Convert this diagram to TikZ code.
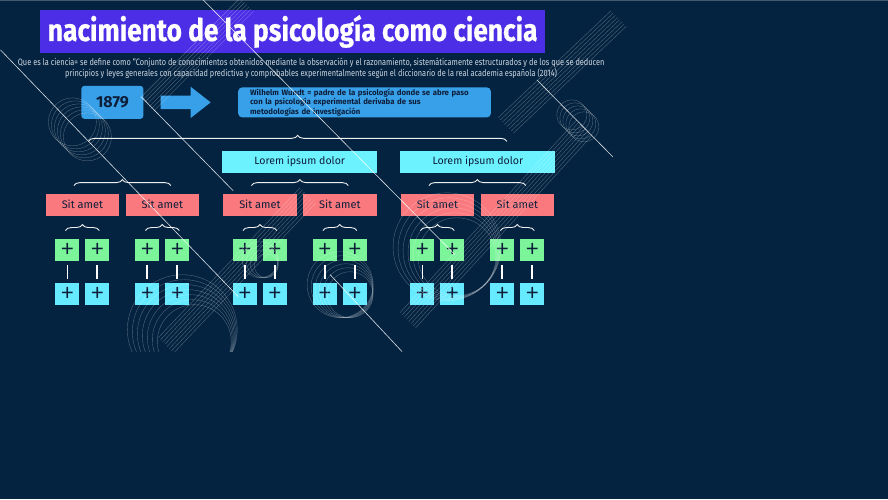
\documentclass[tikz,border=0pt]{standalone}
\usepackage{fontspec}
\setmainfont{Fira Sans}
\newfontfamily\condfont[FakeStretch=0.8]{Fira Sans}
\newfontfamily\titlefont[FakeBold=0.6]{Fira Sans}
\newfontfamily\plusfont{Lato}
\usetikzlibrary{positioning, shapes.arrows, decorations.pathreplacing}
\definecolor{bgnavy}{RGB}{4,35,64}
\definecolor{titlepurple}{RGB}{76,46,230}
\definecolor{yearblue}{RGB}{56,160,232}
\definecolor{loremcyan}{RGB}{108,242,255}
\definecolor{sitred}{RGB}{249,121,126}
\definecolor{plusgreen}{RGB}{124,245,154}
\definecolor{pluscyan}{RGB}{102,234,255}
\definecolor{inknavy}{RGB}{14,30,58}
\definecolor{subgray}{RGB}{205,214,224}

\begin{document}
\begin{tikzpicture}[x=1pt, y=-1pt, font=\fontsize{10}{12}\selectfont,
  box/.style={rectangle, inner sep=0pt, text=inknavy},
  lorem/.style={box, fill=loremcyan, minimum width=155pt, minimum height=22pt,
                font=\fontsize{10.6}{12}\selectfont},
  sit/.style={box, fill=sitred, minimum width=73.5pt, minimum height=22pt,
              font=\fontsize{11}{12}\selectfont},
  pg/.style={box, fill=plusgreen, minimum width=24pt, minimum height=22pt,
             font=\plusfont\fontsize{22.5}{22.5}\selectfont},
  pc/.style={pg, fill=pluscyan},
  brc/.style={draw=white!88!gray, line width=0.9pt, decorate,
              decoration={brace, amplitude=6pt}},
  lnk/.style={draw=white, line width=1.8pt, shorten <=4pt, shorten >=4pt},
  deco/.style={draw=white, line width=0.4pt, opacity=0.3},
  ray/.style={draw=white, line width=0.6pt, opacity=0.85}]
\fill[bgnavy] (0,0) rectangle (888,500);
\draw[white!25!bgnavy, line width=1pt] (0,0.5) -- (888,0.5);

% header
\node[fill=titlepurple, minimum width=505pt, minimum height=43pt, inner sep=0pt,
      text=white, font=\titlefont\fontsize{31}{31}\selectfont\bfseries] (title) at (292.5,31.5)
      {\scalebox{0.85}[1]{nacimiento de la psicología como ciencia}};
\node[text=subgray, align=center, inner sep=0pt,
      font=\condfont\fontsize{9.25}{10.5}\selectfont] (defn) at (311,68.5)
      {Que es la ciencia= se define como “Conjunto de conocimientos obtenidos mediante la observación y el razonamiento, sistemáticamente estructurados y de los que se deducen\\
       principios y leyes generales con capacidad predictiva y comprobables experimentalmente según el diccionario de la real academia española (2014)};

% 1879 -> Wundt
\node[box, fill=yearblue, rounded corners=3pt, minimum width=62pt, minimum height=33pt,
      font=\fontsize{16}{16}\selectfont\bfseries] (year) at (112,102.5) {1879};
\node[single arrow, fill=yearblue, inner sep=6.5pt, minimum height=50pt,
      single arrow head extend=9pt, single arrow tip angle=76,
      right=17pt of year] (arw) {};
\node[box, fill=yearblue, rounded corners=4pt, minimum width=253pt, minimum height=30pt,
      text width=229pt, align=left, font=\fontsize{7.8}{9.4}\selectfont\bfseries,
      right=27pt of arw] (wundt)
      {Wilhelm Wundt = padre de la psicología donde se abre paso\\
       con la psicología experimental derivaba de sus\\
       metodologías de investigación};

% tree
\draw[brc] (88,141.5) -- (507,141.5);
\node[lorem] (lor1) at (299.5,162) {Lorem ipsum dolor};
\node[lorem, right=23pt of lor1] (lor2) {Lorem ipsum dolor};
\foreach \n/\cx in {1/82,2/162,3/259.7,4/339.7,5/437.4,6/517.4}{
  \node[sit] (s\n) at (\cx,205) {Sit amet};
  \node[pg] (ga\n) at ({\cx-15},250) {+};
  \node[pg] (gb\n) at ({\cx+15},250) {+};
  \node[pc] (ca\n) at ({\cx-15},294.7) {+};
  \node[pc] (cb\n) at ({\cx+15},294.7) {+};
  \draw[brc] ([xshift=-2pt,yshift=8pt]ga\n.north) -- ([xshift=2pt,yshift=8pt]gb\n.north);
  \draw[lnk] (ga\n) -- (ca\n);
  \draw[lnk] (gb\n) -- (cb\n);
}
\draw[brc] ([xshift=-8.5pt,yshift=8pt]s1.north) -- ([xshift=8.5pt,yshift=8pt]s2.north);
\draw[brc] ([xshift=-8.5pt,yshift=8pt]s3.north) -- ([xshift=8.5pt,yshift=8pt]s4.north);
\draw[brc] ([xshift=-8.5pt,yshift=8pt]s5.north) -- ([xshift=8.5pt,yshift=8pt]s6.north);

% background lines and rings
\begin{scope}
  \clip (0,0) rectangle (640,352);
  \foreach \i in {0,...,5} \draw[deco] ({72+3*\i},{122+3*\i}) circle (24);
  \foreach \i in {0,...,4} \draw[deco] ({572+3*\i},{115+3*\i}) circle (15);
  \foreach \i in {0,...,5} \draw[deco] ({447+2*\i},{247+2*\i}) circle ({54-3*\i});
  \foreach \i in {0,...,5} \draw[deco] ({340+2*\i},{285+2*\i}) circle ({33-2*\i});
  \foreach \i in {0,...,6} \draw[deco] ({182+2*\i},{330+2*\i}) circle ({55-3*\i});
  \foreach \i in {0,...,3} \draw[deco] ({260+2*\i},{260+2*\i}) circle ({18-2*\i});
  \foreach \i in {0,...,7} \draw[deco] ({400+2.2*\i},{313+2.2*\i}) -- ++(177,-193);
  \foreach \i in {0,...,7} \draw[deco] ({158+2.2*\i},{338+2.2*\i}) -- ++(142,-150);
  \foreach \i in {0,...,7} \draw[deco] ({498+2.2*\i},{118+2.2*\i}) -- ++(113,-107);
  \foreach \i in {0,...,6} \draw[deco] ({140+2.2*\i},{98+2.2*\i}) -- ++(100,-100);
  \draw[ray] (0,50) -- (238,297);
  \draw[ray] (141,97) -- (233,191);
  \draw[ray] (203,0) -- (455,255);
  \draw[ray] (330,275) -- (402,352);
  \draw[ray] (537,80) -- (613,157);
\end{scope}
\end{tikzpicture}
\end{document}
